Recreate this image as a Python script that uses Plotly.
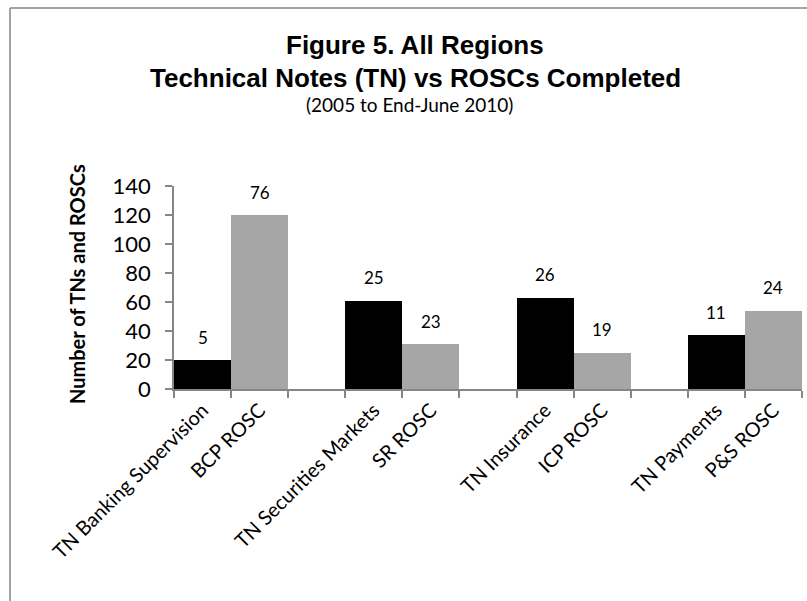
import plotly.graph_objects as go

# Categories: each technical note is followed by its matching ROSC
tn_categories = ["TN Banking Supervision", "TN Securities Markets", "TN Insurance", "TN Payments"]
rosc_categories = ["BCP ROSC", "SR ROSC", "ICP ROSC", "P&S ROSC"]

# Bar heights on the "Number of TNs and ROSCs" axis
tn_values = [20, 61, 63, 37]
rosc_values = [120, 31, 25, 54]

# Count labels printed above the bars
tn_counts = [5, 25, 26, 11]
rosc_counts = [76, 23, 19, 24]

y_ticks = [0, 20, 40, 60, 80, 100, 120, 140]

# slot layout: TN, ROSC, blank spacer, TN, ROSC, ...
tn_x = [3 * i for i in range(len(tn_categories))]
rosc_x = [3 * i + 1 for i in range(len(rosc_categories))]

W, H = 807, 601
L, R, T, B = 174, 5, 186, 212
PW, PH = W - L - R, H - T - B


def px_x(p):
    return (p - L) / PW


def px_y(p):
    return (H - B - p) / PH


LABEL_FONT = "Lato, 'Open Sans', sans-serif"
TITLE_FONT = "'Liberation Sans', Arial, sans-serif"

fig = go.Figure()
fig.add_trace(go.Bar(x=tn_x, y=tn_values, width=1, marker=dict(color="#000000", line=dict(width=0)),
                     name="Technical Notes", hoverinfo="skip"))
fig.add_trace(go.Bar(x=rosc_x, y=rosc_values, width=1, marker=dict(color="#A6A6A6", line=dict(width=0)),
                     name="ROSCs", hoverinfo="skip"))

annotations = []
for xs, ys, cs in ((tn_x, tn_values, tn_counts), (rosc_x, rosc_values, rosc_counts)):
    for x, y, c in zip(xs, ys, cs):
        annotations.append(dict(x=x, y=y, xref="x", yref="y", text=str(c), showarrow=False,
                                yanchor="middle", yshift=23,
                                font=dict(family=LABEL_FONT, size=17, color="#000000")))

# Title block
annotations += [
    dict(x=px_x(415), y=px_y(45), xref="paper", yref="paper", text="<b>Figure 5. All Regions</b>",
         showarrow=False, xanchor="center", yanchor="middle",
         font=dict(family=TITLE_FONT, size=26, color="#000000")),
    dict(x=px_x(415), y=px_y(78), xref="paper", yref="paper",
         text="<b>Technical Notes (TN) vs ROSCs Completed</b>",
         showarrow=False, xanchor="center", yanchor="middle",
         font=dict(family=TITLE_FONT, size=26, color="#000000")),
    dict(x=px_x(409), y=px_y(105), xref="paper", yref="paper", text="(2005 to End-June 2010)",
         showarrow=False, xanchor="center", yanchor="middle",
         font=dict(family=LABEL_FONT, size=19, color="#000000")),
    dict(x=px_x(77), y=px_y(284), xref="paper", yref="paper", text="<b>Number of TNs and ROSCs</b>",
         showarrow=False, xanchor="center", yanchor="middle", textangle=-90,
         font=dict(family=LABEL_FONT, size=20, color="#000000")),
]

# Chart frame (left and top edges)
frame = dict(color="#868686", width=1.5)
shapes = [
    dict(type="line", xref="paper", yref="paper", x0=px_x(10), x1=px_x(10), y0=px_y(8), y1=px_y(640), line=frame),
    dict(type="line", xref="paper", yref="paper", x0=px_x(10), x1=px_x(840), y0=px_y(8), y1=px_y(8), line=frame),
]

axis_grey = "#868686"
fig.update_layout(
    width=W, height=H,
    margin=dict(l=L, r=R, t=T, b=B, pad=0),
    paper_bgcolor="#FFFFFF", plot_bgcolor="#FFFFFF",
    showlegend=False, barmode="overlay", bargap=0,
    annotations=annotations, shapes=shapes,
    xaxis=dict(
        range=[-0.5, 10.5], tickmode="array",
        tickvals=tn_x + rosc_x, ticktext=tn_categories + rosc_categories,
        tickangle=-45, ticks="", ticklen=0,
        tickfont=dict(family=LABEL_FONT, size=20, color="#000000"),
        showline=True, linecolor=axis_grey, linewidth=1.5,
        showgrid=False, zeroline=False,
        minor=dict(tick0=-0.5, dtick=1, ticks="outside", ticklen=7, tickcolor=axis_grey, tickwidth=1.5,
                   showgrid=False),
    ),
    yaxis=dict(
        range=[0, 140], tickmode="array", tickvals=y_ticks,
        ticks="outside", ticklen=7, tickcolor=axis_grey, tickwidth=1.5,
        tickfont=dict(family=LABEL_FONT, size=22, color="#000000"),
        ticklabelstandoff=10,
        showline=True, linecolor=axis_grey, linewidth=1.5,
        showgrid=False, zeroline=False,
    ),
)

fig.write_html("out.html")
